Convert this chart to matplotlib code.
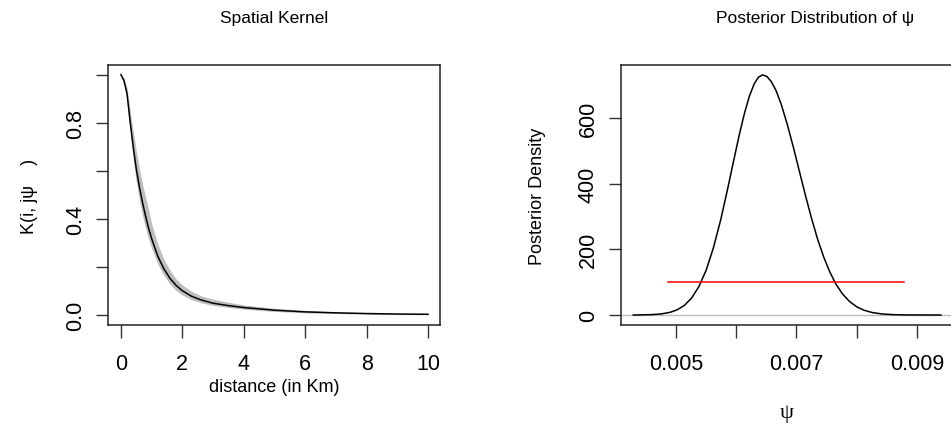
import matplotlib
matplotlib.use("Agg")
import matplotlib.pyplot as plt
import numpy as np

plt.rcParams["font.family"] = ["Liberation Sans", "DejaVu Sans"]
plt.rcParams["font.size"] = 13

# spatial kernel: posterior mean with a credible band, against distance in km
dist = [0, 0.1, 0.2, 0.3, 0.4, 0.5, 0.6, 0.7, 0.8, 0.9, 1.0, 1.2, 1.4, 1.6,
        1.8, 2.0, 2.3, 2.6, 3.0, 3.5, 4.0, 5.0, 6.0, 7.0, 8.0, 9.0, 10.0]
kern_mean = [1.0, 0.975, 0.92, 0.805, 0.70, 0.608, 0.535, 0.47, 0.413, 0.362,
             0.318, 0.245, 0.192, 0.152, 0.123, 0.101, 0.078, 0.063, 0.049,
             0.039, 0.031, 0.020, 0.013, 0.009, 0.006, 0.004, 0.003]
kern_upper = [1.0, 0.985, 0.945, 0.85, 0.765, 0.685, 0.612, 0.548, 0.492,
              0.44, 0.38, 0.295, 0.232, 0.185, 0.150, 0.125, 0.099, 0.080,
              0.066, 0.053, 0.042, 0.028, 0.019, 0.013, 0.009, 0.006, 0.005]
kern_lower = [1.0, 0.965, 0.895, 0.765, 0.65, 0.555, 0.478, 0.415, 0.362,
              0.318, 0.278, 0.212, 0.165, 0.128, 0.102, 0.083, 0.064, 0.051,
              0.040, 0.031, 0.024, 0.015, 0.009, 0.006, 0.004, 0.002, 0.001]

# posterior density of psi
psi = [0.00429, 0.00440, 0.00460, 0.00475, 0.00490, 0.00502, 0.00514, 0.00526,
       0.00538, 0.00550, 0.00562, 0.00574, 0.00586, 0.00596, 0.00606, 0.00614,
       0.00622, 0.00630, 0.00637, 0.00644, 0.00651, 0.00658, 0.00666, 0.00675,
       0.00685, 0.00695, 0.00705, 0.00715, 0.00725, 0.00735, 0.00745, 0.00755,
       0.00765, 0.00776, 0.00788, 0.00800, 0.00812, 0.00826, 0.00842, 0.00860,
       0.00885, 0.00940]
dens = [0.0, 0.3, 1.2, 3.2, 8.1, 15.9, 29.5, 51.9, 86.5, 136, 204, 288, 386,
        472, 556, 616, 667, 704, 724, 731, 726, 711, 684, 640, 579, 510, 437,
        364, 295, 232, 178, 133, 96, 65.5, 41.4, 25.2, 14.7, 7.5, 3.2, 1.1,
        0.2, 0.0]
prior_lo, prior_hi, prior_level = 0.00487, 0.00878, 100

W, H = 951, 427
fig = plt.figure(figsize=(W / 100, H / 100), dpi=100)

def px_axes(x0, x1, y0, y1):
    return fig.add_axes([x0 / W, 1 - y1 / H, (x1 - x0) / W, (y1 - y0) / H])

def r_style(ax):
    for s in ax.spines.values():
        s.set_linewidth(1.1)
        s.set_color("#222222")
    ax.tick_params(direction="out", length=9, width=1.0, color="#333333",
                   labelsize=15.5)
    ax.tick_params(axis="x", pad=11)
    ax.tick_params(axis="y", pad=7, labelrotation=90)
    for lab in ax.get_yticklabels():
        lab.set_va("center")

# left panel
ax1 = px_axes(108, 440, 66, 326)
ax1.fill_between(dist, kern_lower, kern_upper, color="#bebebe", lw=0)
ax1.plot(dist, kern_mean, color="black", lw=1.1)
ax1.set_xlim(-0.42, 10.39)
ax1.set_ylim(-0.0416, 1.040)
ax1.set_xticks([0, 2, 4, 6, 8, 10])
ax1.set_yticks([0, 0.2, 0.4, 0.6, 0.8, 1.0])
ax1.set_yticklabels(["0.0", "", "0.4", "", "0.8", ""])
r_style(ax1)
fig.text(274 / W, 1 - 19 / H, "Spatial Kernel", ha="center", va="center",
         fontsize=12.5)
ax1.set_xlabel("distance (in Km)", va="center")
ax1.xaxis.set_label_coords(0.5, -0.236)
ax1.set_ylabel("K(i, j\u03c8    )", va="center")
ax1.yaxis.set_label_coords(-0.235, 0.5)

# right panel
ax2 = px_axes(621, 953, 66, 326)
ax2.axhline(0, color="#bebebe", lw=1.0)
ax2.plot(psi, dens, color="black", lw=1.1)
ax2.plot([prior_lo, prior_hi], [prior_level, prior_level], color="red", lw=1.1)
ax2.set_xlim(0.004086, 0.009601)
ax2.set_ylim(-30.4, 761)
ax2.set_xticks([0.005, 0.006, 0.007, 0.008, 0.009])
ax2.set_xticklabels(["0.005", "", "0.007", "", "0.009"])
ax2.set_yticks([0, 200, 400, 600])
ax2.set_yticklabels(["0", "200", "400", "600"])
r_style(ax2)
fig.text(815 / W, 1 - 19 / H, "Posterior Distribution of \u03c8",
         ha="center", va="center", fontsize=12.5)
ax2.set_xlabel("\u03c8", family=["Liberation Serif", "DejaVu Serif"],
               fontsize=16, va="center")
ax2.xaxis.set_label_coords(0.5, -0.335)
ax2.set_ylabel("Posterior Density", va="center")
ax2.yaxis.set_label_coords(-0.253, 0.5)

fig.savefig("out.png", dpi=100)
